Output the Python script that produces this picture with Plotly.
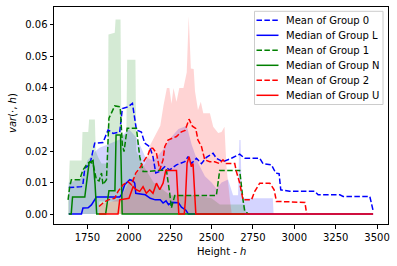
import plotly.graph_objects as go

# ---------------- data ----------------
g0_mean_x = [1637, 1714, 1723, 1734, 1764, 1794, 1844, 1875, 1905, 1945, 1961, 1995, 2022, 2046, 2076, 2096, 2126,
             2146, 2163, 2187, 2217, 2247, 2288, 2338, 2358, 2378, 2409, 2439, 2469, 2509, 2529, 2569, 2620, 2670,
             2700, 2791, 2811, 2862, 2888, 2908, 2918, 2972, 3124, 3144, 3275, 3295, 3456, 3476]
g0_mean_y = [0.0084, 0.0087, 0.0095, 0.0146, 0.0156, 0.0225, 0.0227, 0.0267, 0.0256, 0.026, 0.0335, 0.034, 0.0351,
             0.0267, 0.026, 0.0225, 0.0214, 0.0182, 0.013, 0.0135, 0.015, 0.014, 0.0156, 0.0166, 0.0182, 0.016,
             0.0177, 0.016, 0.018, 0.0193, 0.0177, 0.0166, 0.0177, 0.019, 0.0177, 0.0177, 0.016, 0.0156, 0.013,
             0.0128, 0.0077, 0.0072, 0.0072, 0.0061, 0.0061, 0.0056, 0.0056, 0.0011]

g0_med_x = [1637, 1714, 1723, 1754, 1774, 1794, 1804, 1945, 1955, 1975, 2006, 2026, 2036, 2042, 2070, 2100, 2130,
            2160, 2190, 2207, 2225, 2240, 2260, 2300, 2318, 2345, 2360, 3476]
g0_med_y = [0, 0, 0.0019, 0.002, 0.0029, 0.0045, 0.0054, 0.0054, 0.0061, 0.0093, 0.0109, 0.0105, 0.0098, 0.0066,
            0.0063, 0.0061, 0.005, 0.0045, 0.0045, 0.0035, 0.0042, 0.003, 0.0037, 0.0036, 0.0022, 0.0012, 0, 0]

g1_mean_x = [1633, 1643, 1653, 1703, 1723, 1744, 1764, 1784, 1804, 1820, 1835, 1844, 1865, 1880, 1915, 1948,
             1961, 1971, 1990, 2046, 2066, 2086, 2106, 2227, 2247, 2257, 2278, 2529, 2549, 2670, 2690, 2700, 2718,
             2730]
g1_mean_y = [0.0045, 0.0087, 0.0109, 0.0109, 0.014, 0.0156, 0.0166, 0.016, 0.0109, 0.0105, 0.013, 0.0093, 0.0109,
             0.0304, 0.0343, 0.034, 0.0219, 0.0198, 0.0272, 0.0272, 0.0182, 0.0135, 0.0135, 0.014, 0.0066, 0.0019,
             0.0059, 0.0059, 0.0138, 0.0138, 0.0045, 0.001, 0.0002, 0]

g1_med_x = [1637, 1652, 1660, 1734, 1760, 1784, 1796, 1806, 1860, 1870, 1880, 1916, 1923, 1950, 1960, 2700]
g1_med_y = [0, 0, 0.0054, 0.0054, 0.0163, 0.017, 0.0095, 0, 0, 0.0045, 0.0074, 0.0074, 0.0251, 0.0251, 0, 0]

g2_mean_x = [1820, 1844, 1875, 1915, 1935, 1965, 1995, 2016, 2042, 2066, 2096, 2116, 2130, 2145, 2167, 2187, 2207,
             2217, 2237, 2288, 2318, 2340, 2364, 2384, 2404, 2418, 2439, 2459, 2489, 2519, 2549, 2569, 2589, 2640,
             2650, 2670, 2690, 2741, 2761, 2791, 2852, 2878, 2892, 3064, 3074]
g2_mean_y = [0.0024, 0.0035, 0.0045, 0.005, 0.0072, 0.0093, 0.0103, 0.0093, 0.013, 0.0146, 0.0172, 0.0188, 0.0209,
             0.0209, 0.0193, 0.014, 0.0172, 0.0214, 0.0235, 0.0246, 0.0261, 0.0265, 0.0301, 0.0279, 0.0272, 0.0235,
             0.0214, 0.0172, 0.0166, 0.0166, 0.016, 0.0172, 0.016, 0.016, 0.0135, 0.0098, 0.0045, 0.0045, 0.0072,
             0.0098, 0.0098, 0.0077, 0.004, 0.0037, 0.0003]

g2_med_x = [1820, 1935, 1945, 2001, 2026, 2046, 2066, 2086, 2106, 2126, 2146, 2167, 2187, 2207, 2223, 2288, 2302,
            2335, 2342, 2352, 2364, 2378, 2388, 2405, 3476]
g2_med_y = [0, 0, 0.0045, 0.005, 0.0087, 0.0077, 0.0072, 0.0087, 0.0066, 0.0077, 0.0066, 0.0098, 0.0077, 0.0098,
            0.0138, 0.0138, 0, 0, 0.0045, 0.0161, 0.0182, 0.015, 0.016, 0, 0]

# spread bands (lower / upper) per group
g0_band_x = [1637, 1700, 1720, 1750, 1800, 1818, 1822, 1870, 1950, 1958, 1962, 2000, 2050, 2100, 2150, 2200, 2250,
             2300, 2350, 2380, 2420, 2460, 2500, 2530, 2560, 2600, 2630, 2660, 2668, 2675, 2682, 2690, 2870, 2875]
g0_band_lo = [0, 0, 0, 0, 0, 0, 0.004, 0.004, 0.004, 0.004, 0, 0, 0, 0, 0, 0, 0, 0, 0, 0, 0, 0, 0, 0, 0, 0, 0, 0,
              0, 0, 0, 0, 0, 0]
g0_band_hi = [0.010, 0.011, 0.012, 0.017, 0.020, 0.021, 0.021, 0.022, 0.024, 0.024, 0.025, 0.027, 0.024, 0.018,
              0.017, 0.020, 0.024, 0.027, 0.028, 0.022, 0.016, 0.012, 0.010, 0.008, 0.010, 0.011, 0.006, 0.006,
              0.0235, 0.0235, 0.006, 0.005, 0.005, 0]

g1_band_x = [1633, 1643, 1715, 1720, 1755, 1760, 1795, 1800, 1815, 1835, 1860, 1872, 1877, 1915, 1920, 1950, 1955,
             1985, 1990, 2040, 2045, 2080, 2150, 2250, 2400, 2500, 2550, 2700, 2710]
g1_band_lo = [0] * 29
g1_band_hi = [0.0045, 0.017, 0.017, 0.026, 0.026, 0.030, 0.030, 0.020, 0.018, 0.016, 0.016, 0.016, 0.057, 0.0575,
              0.0617, 0.0617, 0.025, 0.025, 0.049, 0.049, 0.020, 0.016, 0.010, 0.006, 0.006, 0.005, 0.003, 0.003, 0]

g2_band_x = [1820, 1900, 1950, 2000, 2050, 2100, 2130, 2160, 2190, 2210, 2230, 2245, 2258, 2270, 2288, 2305, 2330,
             2350, 2362, 2375, 2392, 2400, 2418, 2435, 2450, 2490, 2510, 2540, 2560, 2578, 2590, 2610, 2622]
g2_band_lo = [0] * 33
g2_band_hi = [0.003, 0.004, 0.005, 0.010, 0.013, 0.016, 0.022, 0.025, 0.028, 0.0346, 0.040, 0.040, 0.035, 0.040,
              0.0356, 0.040, 0.040, 0.045, 0.0628, 0.0462, 0.046, 0.039, 0.033, 0.0356, 0.032, 0.032, 0.0277,
              0.0257, 0.026, 0.0277, 0.015, 0.005, 0]

legend_labels = ["Mean of Group 0", "Median of Group L", "Mean of Group 1",
                 "Median of Group N", "Mean of Group 2", "Median of Group U"]
x_ticks = [1750, 2000, 2250, 2500, 2750, 3000, 3250, 3500]
y_ticks = [0.00, 0.01, 0.02, 0.03, 0.04, 0.05, 0.06]

# ---------------- figure ----------------
FONT = "DejaVu Sans"
DASH = "5.5px,2.4px"
fig = go.Figure()

bands = [
    (g0_band_x, g0_band_lo, g0_band_hi, "rgba(0,0,255,0.17)"),
    (g1_band_x, g1_band_lo, g1_band_hi, "rgba(0,128,0,0.17)"),
    (g2_band_x, g2_band_lo, g2_band_hi, "rgba(255,0,0,0.17)"),
]
for bx, lo, hi, col in bands:
    fig.add_trace(go.Scatter(x=bx + bx[::-1], y=hi + lo[::-1], fill="toself", fillcolor=col,
                             line=dict(width=0), mode="lines", hoverinfo="skip", showlegend=False))

lines = [
    (g0_mean_x, g0_mean_y, "blue", DASH),
    (g0_med_x, g0_med_y, "blue", "solid"),
    (g1_mean_x, g1_mean_y, "green", DASH),
    (g1_med_x, g1_med_y, "green", "solid"),
    (g2_mean_x, g2_mean_y, "red", DASH),
    (g2_med_x, g2_med_y, "red", "solid"),
]
for (lx, ly, col, dash), name in zip(lines, legend_labels):
    fig.add_trace(go.Scatter(x=lx, y=ly, mode="lines", name=name,
                             line=dict(color=col, width=1.5, dash=dash), showlegend=False))

# manual legend (matplotlib style), paper coordinates
W, H = 397, 266
L, R, T, B = 54, 9, 7, 42
pw, ph = W - L - R, H - T - B


def px(x):
    return (x - L) / pw


def py(y):
    return 1 - (y - T) / ph


shapes = [dict(type="rect", xref="paper", yref="paper", x0=px(254.5), x1=px(383), y0=py(104.5), y1=py(11.3),
               line=dict(color="#cccccc", width=1), fillcolor="rgba(255,255,255,0.8)", layer="above")]
annotations = []
for i, ((lx, ly, col, dash), name) in enumerate(zip(lines, legend_labels)):
    yy = 20.3 + 15 * i
    shapes.append(dict(type="line", xref="paper", yref="paper", x0=px(256.5), x1=px(278.5), y0=py(yy), y1=py(yy),
                       line=dict(color=col, width=1.5, dash=dash), layer="above"))
    annotations.append(dict(xref="paper", yref="paper", x=px(284), y=py(yy), text=name, showarrow=False,
                            xanchor="left", yanchor="middle", font=dict(family=FONT, size=10, color="black")))

# axis titles as annotations at fixed pixel spots
annotations.append(dict(xref="paper", yref="paper", x=px(221), y=py(251), text="Height - <i>h</i>",
                        showarrow=False, xanchor="center", yanchor="middle",
                        font=dict(family=FONT, size=10, color="black")))
annotations.append(dict(xref="paper", yref="paper", x=px(12), y=py(113), text="<i>var</i>(·, <i>h</i>)",
                        showarrow=False, xanchor="center", yanchor="middle", textangle=-90,
                        font=dict(family=FONT, size=10, color="black")))

fig.update_layout(
    width=W, height=H,
    margin=dict(l=L, r=R, t=T, b=B, autoexpand=False),
    paper_bgcolor="white", plot_bgcolor="white",
    font=dict(family=FONT, size=10, color="black"),
    shapes=shapes, annotations=annotations,
    showlegend=False,
    xaxis=dict(range=[1548, 3566], tickvals=x_ticks, ticks="outside", ticklen=3.5, tickwidth=0.8,
               tickcolor="black", showline=True, linecolor="black", linewidth=1, mirror=True,
               showgrid=False, zeroline=False, automargin=False),
    yaxis=dict(range=[-0.00316, 0.0657], tickvals=y_ticks, tickformat=".2f", ticks="outside", ticklen=3.5,
               tickwidth=0.8, tickcolor="black", showline=True, linecolor="black", linewidth=1, mirror=True,
               showgrid=False, zeroline=False, automargin=False),
)

fig.write_html("out.html", config={"displayModeBar": False},
               post_script="document.body.style.margin='0px';")
